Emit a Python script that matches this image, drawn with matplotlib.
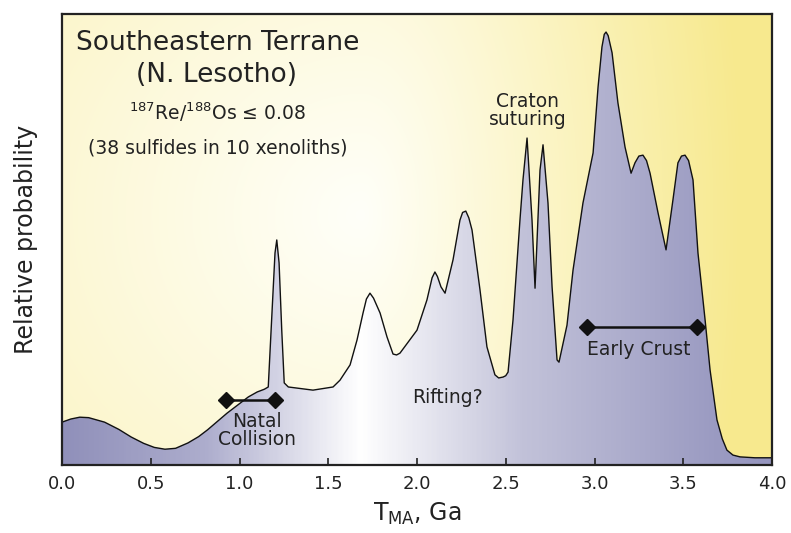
import matplotlib
matplotlib.use("Agg")
import matplotlib.pyplot as plt
import numpy as np
from matplotlib.colors import LinearSegmentedColormap

plt.rcParams['font.family'] = ['DejaVu Sans']

# Model age (Ga) and relative probability
age = [0.00, 0.05, 0.10, 0.15, 0.24, 0.32, 0.39, 0.46, 0.52, 0.58, 0.64, 0.71,
       0.77, 0.82, 0.93, 1.05, 1.10, 1.14, 1.162,
       1.181, 1.200, 1.210, 1.223, 1.238, 1.252, 1.275, 1.414, 1.527, 1.566,
       1.623, 1.662, 1.696, 1.715, 1.735, 1.755, 1.792, 1.831, 1.865, 1.885,
       1.904, 2.000, 2.056, 2.085, 2.101, 2.115, 2.135, 2.158, 2.203, 2.242,
       2.257, 2.275, 2.292, 2.310, 2.355, 2.394, 2.439, 2.460,
       2.485, 2.500, 2.513, 2.541, 2.580, 2.597, 2.620, 2.648, 2.665, 2.693, 2.710,
       2.738, 2.761, 2.789, 2.800, 2.845, 2.879, 2.935, 2.992, 3.020, 3.042,
       3.055, 3.065, 3.077, 3.099, 3.132, 3.172, 3.206, 3.228, 3.250, 3.273,
       3.293, 3.313, 3.358, 3.403, 3.442, 3.470, 3.490, 3.510, 3.530, 3.555,
       3.583, 3.623, 3.651, 3.690, 3.720, 3.746, 3.780, 3.820, 3.904, 4.000]
prob = [0.095, 0.102, 0.106, 0.105, 0.095, 0.079, 0.062, 0.048, 0.039, 0.035, 0.037, 0.049,
        0.063, 0.078, 0.115, 0.151, 0.162, 0.168, 0.173,
        0.322, 0.470, 0.499, 0.448, 0.299, 0.182, 0.173, 0.166, 0.173, 0.188,
        0.222, 0.277, 0.337, 0.368, 0.381, 0.370, 0.337, 0.284, 0.246, 0.244,
        0.248, 0.299, 0.366, 0.415, 0.428, 0.418, 0.395, 0.381, 0.455, 0.543,
        0.560, 0.563, 0.548, 0.521, 0.388, 0.262, 0.200, 0.193,
        0.195, 0.198, 0.206, 0.322, 0.543, 0.632, 0.725, 0.543, 0.392, 0.654, 0.710,
        0.581, 0.395, 0.233, 0.228, 0.310, 0.432, 0.581, 0.692, 0.838, 0.927,
        0.955, 0.960, 0.952, 0.914, 0.803, 0.705, 0.647, 0.670, 0.685, 0.687,
        0.675, 0.647, 0.559, 0.477, 0.588, 0.670, 0.685, 0.687, 0.675, 0.632,
        0.470, 0.322, 0.211, 0.100, 0.058, 0.033, 0.022, 0.018, 0.016, 0.016]

ticks = [0.0, 0.5, 1.0, 1.5, 2.0, 2.5, 3.0, 3.5, 4.0]

# event bars: (start, end, height)
natal = [0.924, 1.200, 0.144]
early = [2.958, 3.577, 0.306]

fig = plt.figure(figsize=(7.91, 5.33), dpi=100)
ax = fig.add_axes([62/791, 68/533, 710/791, 451/533])
ax.set_xlim(0, 4)
ax.set_ylim(0, 1)

# background: white glow in the middle, cream on the left, yellow on the right
W, H = 400, 260
gx, gy = np.meshgrid(np.linspace(0, 710, W), np.linspace(451, 0, H))
cx, cy = 300, 250
rx = np.where(gx < cx, 850, 380)
d = np.sqrt(((gx - cx) / rx)**2 + ((gy - cy) / 800)**2)
d = np.clip(d, 0, 1)**1.05
white = np.array([1.0, 1.0, 0.975])
yellow = np.array([0.97, 0.915, 0.56])
bg = white[None, None, :] * (1 - d[..., None]) + yellow[None, None, :] * d[..., None]
ax.imshow(bg, extent=[0, 4, 0, 1], aspect='auto', origin='upper', zorder=0)

# gradient fill under the curve
cmap = LinearSegmentedColormap.from_list('fill', [
    (0.0, '#9090ba'), (0.2, '#adadcd'), (0.42, '#ffffff'),
    (0.65, '#c2c2d9'), (0.92, '#9b9bc2'), (1.0, '#9696bf')])
grad = np.linspace(0, 1, 400)[None, :]
im = ax.imshow(grad, extent=[0, 4, 0, 1], aspect='auto', cmap=cmap, zorder=1)
poly = ax.fill_between(age, prob, 0, facecolor='none', edgecolor='none')
im.set_clip_path(poly.get_paths()[0], transform=ax.transData)
ax.plot(age, prob, color='#111111', lw=1.0, zorder=3, solid_joinstyle='round')

# event bars
for s, e, h in [natal, early]:
    ax.plot([s, e], [h, h], color='#111111', lw=1.8, zorder=4)
    ax.plot([s, e], [h, h], ls='none', marker='D', ms=8, color='#111111', zorder=4)

txt = '#222222'
ax.text(1.10, 0.077, 'Natal\nCollision', ha='center', va='center', fontsize=13.5,
        color=txt, linespacing=0.92, zorder=5)
ax.text(2.17, 0.150, 'Rifting?', ha='center', va='center', fontsize=13.5, color=txt, zorder=5)
ax.text(3.25, 0.255, 'Early Crust', ha='center', va='center', fontsize=13.5, color=txt, zorder=5)
ax.text(2.625, 0.786, 'Craton\nsuturing', ha='center', va='center', fontsize=13.5,
        color=txt, linespacing=0.98, zorder=5)

ax.text(0.875, 0.935, 'Southeastern Terrane', ha='center', va='center', fontsize=19, color=txt, zorder=5)
ax.text(0.87, 0.865, '(N. Lesotho)', ha='center', va='center', fontsize=19, color=txt, zorder=5)
ax.text(0.875, 0.782, r'$\mathregular{^{187}}$Re/$\mathregular{^{188}}$Os ≤ 0.08', ha='center',
        va='center', fontsize=13.5, color=txt, zorder=5)
ax.text(0.878, 0.703, '(38 sulfides in 10 xenoliths)', ha='center', va='center', fontsize=13.5,
        color=txt, zorder=5)

ax.set_xticks(ticks)
ax.set_xticklabels(['%.1f' % t for t in ticks], fontsize=13, color=txt)
ax.set_yticks([])
ax.tick_params(axis='x', direction='in', length=5, width=1.2, color='#222222', pad=7)
for sp in ax.spines.values():
    sp.set_linewidth(1.6)
    sp.set_color('#222222')
    sp.set_zorder(6)

ax.set_xlabel(r'T$_{\mathregular{MA}}$, Ga', fontsize=17, color=txt, labelpad=6)
ax.set_ylabel('Relative probability', fontsize=17, color=txt, labelpad=17)

fig.savefig('out.png', dpi=100)
